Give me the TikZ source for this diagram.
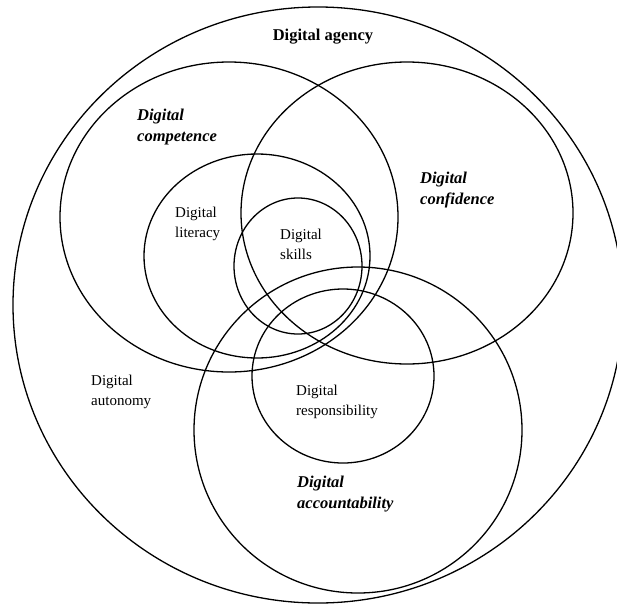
\documentclass[tikz,border=0pt]{standalone}
\usepackage{fontspec}
\setmainfont{Liberation Serif}
\usepackage{tikz}
\usetikzlibrary{shapes.geometric}
\tikzset{ring/.style={ellipse,draw,line width=1.3pt,inner sep=0pt,outer sep=0pt},
         tag/.style={align=left,anchor=west,inner sep=0pt,font=\fontsize{15}{20}\selectfont},
         keytag/.style={tag,font=\fontsize{16.5}{21}\selectfont\bfseries\itshape}}

\begin{document}
\begin{tikzpicture}[x=1pt,y=-1pt]
    \useasboundingbox (0,0) rectangle (617,608);
    \node (agencyring) [ring, minimum width=610pt, minimum height=596pt] at (318,305) {};
    \node (competencering) [ring, minimum width=338pt, minimum height=310pt] at (229,217) {};
    \node (confidencering) [ring, minimum width=332pt, minimum height=302pt] at (407,213) {};
    \node (literacyring) [ring, minimum width=226pt, minimum height=204pt] at (257,256) {};
    \node (skillsring) [ring, minimum width=128pt, minimum height=136pt] at (298,266) {};
    \node (accountring) [ring, minimum width=328pt, minimum height=326pt] at (358,430) {};
    \node (responsring) [ring, minimum width=182pt, minimum height=174pt] at (343,376) {};
    % labels
    \node (agency) [tag, anchor=center, font=\fontsize{16.5}{20}\selectfont\bfseries] at (323,37) {Digital agency};
    \node (competence) [keytag] at (137,127) {Digital\\competence};
    \node (confidence) [keytag] at (420,190) {Digital\\confidence};
    \node (literacy) [tag] at (175,224) {Digital\\literacy};
    \node (skills) [tag] at (280,244) {Digital\\skills};
    \node (autonomy) [tag] at (91,392) {Digital\\autonomy};
    \node (responsibility) [tag] at (296,402) {Digital\\responsibility};
    \node (accountability) [keytag] at (297,494) {Digital\\accountability};
\end{tikzpicture}
\end{document}
